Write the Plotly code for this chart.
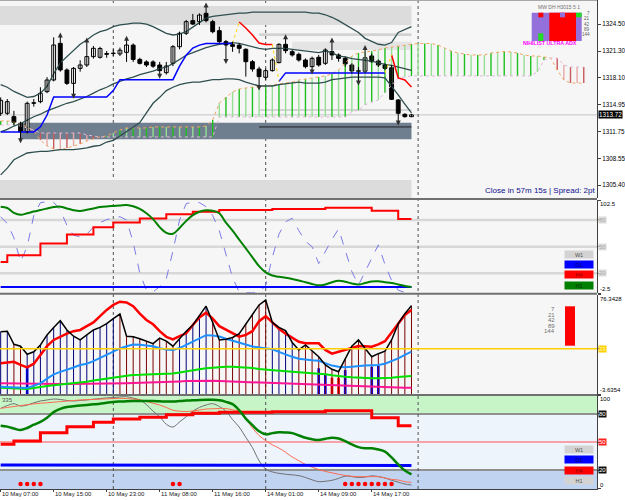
import plotly.graph_objects as go

# ======================= DATA =======================
time_labels = ["10 May 07:00", "10 May 15:00", "10 May 23:00", "11 May 08:00",
               "11 May 16:00", "14 May 01:00", "14 May 09:00", "14 May 17:00"]
time_label_bars = [0, 8, 16, 24, 32, 40, 48, 56]
day_separator_bars = [17, 40, 63]

open_ = [1313.91, 1313.91, 1313.51, 1312.72, 1311.73, 1315.09, 1315.29, 1316.48, 1317.86, 1322.21,
         1319.05, 1317.46, 1319.24, 1319.64, 1320.63, 1320.55, 1320.90, 1321.00, 1320.95, 1321.14,
         1322.00, 1320.30, 1320.00, 1320.00, 1319.64, 1318.73, 1319.84, 1321.81, 1323.40, 1324.90,
         1324.78, 1325.77, 1324.78, 1323.71, 1322.41, 1322.05, 1322.00, 1321.50, 1320.03, 1319.16,
         1318.18, 1318.97, 1319.92, 1322.09, 1321.22, 1320.90, 1320.23, 1319.44, 1320.55, 1319.84,
         1321.22, 1320.83, 1320.43, 1319.64, 1318.95, 1318.90, 1320.71, 1320.11, 1319.64, 1319.32,
         1315.49, 1313.79, 1313.51]
high = [1315.80, 1315.60, 1314.20, 1312.90, 1315.30, 1315.60, 1317.00, 1318.20, 1322.92, 1323.00,
        1319.24, 1319.40, 1320.20, 1322.40, 1321.90, 1321.80, 1321.30, 1321.50, 1321.70, 1322.60,
        1322.20, 1320.50, 1320.20, 1320.20, 1320.00, 1320.00, 1322.00, 1323.60, 1324.98, 1325.70,
        1325.77, 1326.56, 1325.00, 1324.19, 1322.60, 1322.41, 1322.21, 1321.62, 1320.23, 1319.44,
        1319.24, 1320.43, 1322.21, 1322.80, 1321.42, 1321.10, 1320.43, 1320.63, 1320.83, 1321.62,
        1322.41, 1321.02, 1320.63, 1319.84, 1319.40, 1321.50, 1321.00, 1320.30, 1319.84, 1319.64,
        1315.60, 1313.91, 1313.85]
low = [1313.60, 1313.70, 1312.50, 1310.80, 1311.50, 1314.70, 1315.10, 1316.30, 1317.70, 1318.85,
       1317.27, 1316.08, 1318.85, 1319.40, 1320.40, 1320.40, 1320.50, 1320.70, 1320.70, 1320.00,
       1320.00, 1319.70, 1319.40, 1319.30, 1318.45, 1318.50, 1319.50, 1321.50, 1323.20, 1324.38,
       1324.38, 1324.70, 1323.40, 1322.21, 1320.20, 1321.20, 1321.02, 1318.26, 1318.85, 1317.07,
       1317.86, 1318.85, 1319.84, 1321.02, 1320.63, 1320.03, 1319.24, 1318.97, 1319.44, 1319.64,
       1320.23, 1320.03, 1319.44, 1318.65, 1317.66, 1318.70, 1319.90, 1319.40, 1319.05, 1315.49,
       1312.92, 1313.40, 1313.45]
close = [1315.45, 1315.29, 1312.84, 1311.73, 1315.09, 1315.17, 1316.28, 1317.86, 1322.01, 1319.05,
         1317.46, 1319.24, 1319.64, 1320.63, 1321.62, 1321.60, 1321.00, 1321.05, 1321.40, 1322.01,
         1320.30, 1319.84, 1319.64, 1319.50, 1318.97, 1319.52, 1321.81, 1323.40, 1324.78, 1324.50,
         1325.57, 1324.90, 1323.59, 1322.41, 1322.01, 1321.85, 1321.62, 1320.03, 1319.16, 1318.26,
         1318.97, 1320.23, 1322.09, 1321.34, 1320.83, 1320.23, 1319.44, 1320.43, 1319.64, 1321.42,
         1320.83, 1320.43, 1319.76, 1318.93, 1318.90, 1320.50, 1320.03, 1319.64, 1319.24, 1315.57,
         1313.91, 1313.51, 1313.72]

bb_upper = [1317.3, 1317.0, 1316.5, 1316.1, 1315.8, 1315.9, 1316.3, 1317.1, 1318.6, 1319.9,
            1320.6, 1321.4, 1322.1, 1322.6, 1323.2, 1323.6, 1323.8, 1324.2, 1324.4, 1324.5,
            1324.6, 1324.6, 1324.5, 1324.2, 1323.8, 1323.4, 1323.2, 1323.3, 1323.6, 1324.1,
            1324.7, 1325.2, 1325.4, 1325.5, 1325.6, 1325.7, 1325.8, 1325.8, 1325.9, 1325.9,
            1325.9, 1325.9, 1325.9, 1325.9, 1325.9, 1325.9, 1325.9, 1325.8, 1325.8, 1325.6,
            1325.3, 1324.9, 1324.4, 1324.0, 1323.5, 1322.8, 1322.4, 1322.1, 1322.0, 1322.3,
            1323.5, 1323.9, 1324.2]
bb_middle = [1311.7, 1312.0, 1312.4, 1312.7, 1313.1, 1313.5, 1313.8, 1314.2, 1314.5, 1314.8,
             1315.1, 1315.3, 1315.6, 1315.9, 1316.3, 1316.7, 1317.0, 1317.4, 1317.7, 1318.0,
             1318.2, 1318.5, 1318.7, 1318.9, 1319.2, 1319.4, 1319.8, 1320.3, 1320.8, 1321.1,
             1321.4, 1321.7, 1321.9, 1322.1, 1322.2, 1322.3, 1322.2, 1322.0, 1321.8, 1321.6,
             1321.5, 1321.6, 1321.6, 1321.6, 1321.5, 1321.4, 1321.3, 1321.2, 1321.1, 1321.3,
             1321.1, 1320.7, 1320.6, 1320.4, 1320.3, 1320.2, 1320.1, 1319.9, 1319.7, 1319.6,
             1319.4, 1319.2, 1319.0]
bb_lower = [1306.6, 1307.4, 1308.4, 1308.85, 1309.2, 1309.3, 1309.4, 1309.4, 1309.5, 1309.6,
            1309.6, 1309.6, 1309.7, 1309.8, 1310.0, 1310.1, 1310.5, 1310.7, 1311.2, 1311.7,
            1312.2, 1312.8, 1313.95, 1315.1, 1315.8, 1316.6, 1317.0, 1317.3, 1317.5, 1317.6,
            1317.6, 1317.75, 1317.9, 1317.9, 1318.0, 1318.0, 1317.9, 1317.6, 1317.4, 1317.15,
            1317.15, 1317.15, 1317.3, 1317.4, 1317.5, 1317.6, 1317.5, 1317.5, 1317.5, 1317.6,
            1317.9, 1318.0, 1318.1, 1318.2, 1318.2, 1318.2, 1318.2, 1318.2, 1318.1, 1317.15,
            1316.1, 1315.0, 1313.95]

trend_line = [1311.7, 1311.7, 1311.7, 1311.7, 1311.7, 1311.7, 1312.3, 1313.7, 1315.85, 1315.85,
              1315.85, 1315.85, 1315.85, 1315.85, 1315.85, 1315.85, 1315.85, 1316.6, 1317.9, 1317.9,
              1317.9, 1317.9, 1317.9, 1317.9, 1317.9, 1317.9, 1317.9, 1319.5, 1320.8, 1321.65,
              1322.0, 1322.2, 1322.2, 1322.2, 1322.2, 1322.2, 1324.74, 1324.03, 1323.2, 1322.25,
              1322.07, 1322.07, 1317.7, 1318.7, 1318.7, 1318.7, 1318.7, 1318.7, 1318.7, 1318.7,
              1318.7, 1318.7, 1318.7, 1318.7, 1318.7, 1318.7, 1318.7, 1318.7, 1318.7, 1320.83,
              1318.1, 1317.86, 1317.03]
trend_dir = [1, 1, 1, 1, 1, 1, 1, 1, 1, 1, 1, 1, 1, 1, 1, 1, 1, 1, 1, 1,
             1, 1, 1, 1, 1, 1, 1, 1, 1, 1, 1, 1, 1, 1, 1, 1, -1, -1, -1, -1,
             -1, -1, 1, 1, 1, 1, 1, 1, 1, 1, 1, 1, 1, 1, 1, 1, 1, 1, 1, -1,
             -1, -1, -1]

up_fractal_bars = [9, 13, 19, 31, 43, 50, 55]
down_fractal_bars = [3, 11, 24, 34, 39, 47, 54, 60]

senkou_a = [1313.00, 1313.00, 1312.88, 1312.64, 1312.29, 1311.81, 1310.74, 1310.03, 1309.68, 1309.56,
            1309.79, 1310.03, 1310.27, 1310.62, 1310.86, 1311.10, 1311.22, 1311.57, 1311.93, 1312.17,
            1312.17, 1312.17, 1312.17, 1312.29, 1312.29, 1312.29, 1312.29, 1312.29, 1312.29, 1312.29,
            1312.29, 1312.40, 1313.12, 1315.13, 1315.84, 1316.44, 1316.79, 1316.91, 1317.03, 1317.03,
            1317.15, 1317.27, 1317.39, 1317.50, 1317.62, 1317.86, 1317.98, 1318.10, 1318.22, 1318.34,
            1318.57, 1319.05, 1319.88, 1320.71, 1321.06, 1321.18, 1321.30, 1321.42, 1321.66, 1321.77,
            1321.89, 1322.01, 1322.13, 1322.19, 1322.19, 1322.19, 1322.01, 1321.66, 1321.30, 1321.06,
            1320.94, 1320.83, 1320.83, 1320.83, 1321.06, 1321.18, 1321.24, 1321.18, 1321.06, 1320.83,
            1320.71, 1320.71, 1320.59, 1320.47, 1319.05, 1317.86, 1317.50, 1317.50, 1317.50]
senkou_b = [1312.52, 1312.52, 1312.52, 1312.40, 1312.17, 1311.93, 1311.57, 1311.57, 1311.57, 1311.57,
            1311.57, 1311.57, 1311.57, 1311.34, 1311.22, 1311.10, 1311.10, 1311.10, 1311.10, 1311.10,
            1311.10, 1311.10, 1311.10, 1311.10, 1311.10, 1311.10, 1311.10, 1311.10, 1311.10, 1311.10,
            1311.10, 1311.10, 1311.10, 1313.47, 1313.47, 1313.47, 1313.47, 1313.47, 1313.47, 1313.47,
            1313.47, 1313.47, 1313.47, 1313.47, 1313.47, 1313.47, 1313.47, 1313.47, 1313.47, 1313.47,
            1313.47, 1313.47, 1313.47, 1314.06, 1314.30, 1314.90, 1315.25, 1315.49, 1316.32, 1317.27,
            1318.10, 1318.22, 1318.34, 1318.34, 1318.34, 1318.34, 1318.34, 1318.34, 1318.34, 1318.34,
            1318.34, 1318.34, 1318.34, 1318.34, 1318.34, 1318.34, 1318.34, 1318.34, 1318.34, 1318.34,
            1318.34, 1318.81, 1320.23, 1320.47, 1320.47, 1319.64, 1319.40, 1319.40, 1319.40]

bid_price = 1313.72
price_ticks = [1324.50, 1321.30, 1318.10, 1314.95, 1311.75, 1308.55, 1305.40]

# pane 2 (multi-timeframe oscillator)
mtf_h4 = [32.8, 40.4, 40.4, 40.4, 40.4, 40.4, 53.6, 53.6, 53.6, 53.6,
          63.8, 63.8, 63.8, 63.8, 71.7, 71.7, 71.7, 77.3, 77.3, 77.3,
          77.3, 81.8, 81.8, 81.8, 81.8, 86.4, 86.4, 86.4, 86.4, 89.3,
          89.3, 89.3, 89.3, 91.2, 91.2, 91.2, 91.2, 91.2, 91.2, 91.2,
          91.2, 92.3, 92.3, 92.3, 92.3, 92.3, 92.3, 92.3, 92.3, 93.8,
          93.8, 93.8, 93.8, 93.8, 93.8, 93.8, 90.5, 90.5, 90.5, 90.5,
          81.0, 81.0, 81.0]
mtf_h1 = [95.0, 93.5, 88.0, 85.8, 87.5, 89.5, 91.2, 93.0, 94.5, 95.0,
          93.0, 91.0, 90.1, 91.5, 93.0, 94.5, 95.3, 95.8, 96.3, 96.9,
          95.5, 92.5, 87.5, 81.0, 72.0, 65.5, 64.5, 71.0, 79.0, 85.5,
          89.3, 91.0, 90.5, 87.5, 77.0, 68.0, 58.0, 48.0, 38.0, 28.0,
          21.0, 17.5, 16.0, 15.0, 13.7, 12.0, 10.0, 8.0, 6.5, 7.5,
          10.0, 11.5, 10.5, 8.5, 7.3, 9.0, 10.8, 11.0, 10.0, 9.2,
          7.5, 5.8, 4.6]
mtf_d1 = [4.6, 4.6, 4.6, 4.6, 4.6, 4.6, 4.6, 4.6, 4.6, 4.6, 4.6, 4.6, 4.6, 4.6, 4.6, 4.6,
          4.6, 4.6, 4.6, 4.6, 4.6, 4.6, 4.6, 4.6, 4.6, 4.6, 4.6, 4.6, 4.6, 4.6, 4.6, 4.6,
          4.6, 4.6, 4.6, 4.6, 4.6, 4.6, 4.6, 4.6, 4.6, 4.6, 4.6, 4.6, 4.6, 4.6, 4.6, 4.6,
          4.6, 4.6, 4.6, 4.6, 4.6, 4.6, 4.6, 4.6, 4.6, 4.6, 4.6, 4.6, 4.6, 4.6, 4.6]
mtf_fast = [83.7, 76.0, 60.0, 33.0, 50.0, 85.0, 99.6, 100.5, 100.0, 91.2,
            74.0, 63.0, 61.0, 64.0, 72.0, 77.0, 80.5, 82.0, 83.7, 80.0,
            55.0, 20.0, 1.0, -1.0, 5.0, 14.0, 45.0, 80.0, 98.5, 99.8,
            99.5, 95.0, 85.0, 68.0, 40.0, 15.0, -1.0, -2.0, -2.0, -2.0,
            6.6, 38.0, 64.0, 78.0, 82.0, 68.0, 56.0, 50.0, 31.0, 45.0,
            58.0, 70.0, 45.0, 22.0, 6.6, 22.0, 38.0, 52.0, 30.0, 12.0,
            1.0, -1.5, -2.0]
mtf_levels = [80, 50, 20]

# pane 3 (MA stack histogram)
ma_black = [46.6, 47.0, 36.5, 35.0, 28.5, 30.5, 36.0, 44.0, 50.0, 55.4,
            48.0, 43.0, 40.0, 44.0, 48.0, 50.0, 53.0, 57.0, 60.7, 43.0,
            42.6, 41.0, 39.0, 37.0, 41.5, 39.0, 35.0, 41.0, 47.0, 52.0,
            60.0, 67.0, 54.0, 40.0, 40.5, 42.0, 45.0, 53.0, 60.0, 68.0,
            71.9, 54.0, 50.0, 47.4, 38.0, 32.0, 36.0, 31.0, 26.6, 20.0,
            16.5, 14.6, 25.0, 35.0, 40.0, 33.0, 26.6, 29.0, 31.0, 40.0,
            53.0, 61.0, 67.4]
ma_red = [21.3, 22.0, 22.5, 20.0, 18.1, 21.0, 28.0, 35.0, 40.0, 42.6,
          45.0, 47.0, 48.0, 51.0, 54.0, 59.0, 64.0, 68.0, 70.6, 70.0,
          67.0, 61.0, 56.0, 52.5, 47.0, 42.5, 40.5, 43.0, 45.3, 52.0,
          58.0, 61.8, 57.0, 51.0, 48.0, 45.0, 42.6, 44.0, 47.0, 55.0,
          59.0, 54.0, 49.0, 45.0, 41.5, 38.5, 37.3, 37.3, 37.3, 32.0,
          29.0, 30.5, 32.0, 34.0, 35.2, 35.0, 34.6, 36.5, 39.0, 46.0,
          53.0, 60.0, 64.0]
ma_blue = [2.6, 2.3, 2.0, 1.5, 1.5, 3.5, 5.3, 9.0, 12.5, 14.5,
           16.0, 18.0, 20.0, 21.0, 23.0, 25.5, 28.0, 31.0, 33.3, 35.0,
           36.3, 36.2, 35.5, 35.0, 33.3, 32.3, 32.0, 33.5, 36.0, 38.5,
           41.5, 43.8, 43.5, 42.8, 41.0, 39.5, 37.8, 36.0, 34.8, 34.0,
           33.5, 32.5, 30.5, 28.3, 26.5, 25.0, 24.2, 23.8, 23.4, 21.5,
           19.5, 18.5, 18.1, 18.5, 19.2, 19.5, 19.8, 20.0, 21.0, 23.0,
           25.3, 28.0, 30.6]
ma_green = [1.8, 1.5, 1.2, 0.9, 0.8, 1.5, 2.6, 3.2, 3.8, 4.3,
            5.0, 5.6, 6.1, 6.6, 7.5, 8.4, 9.1, 9.8, 10.6, 11.3,
            12.0, 12.1, 12.2, 12.3, 12.4, 12.5, 13.2, 13.9, 14.6, 15.5,
            16.5, 17.3, 17.8, 18.3, 18.6, 18.5, 18.3, 18.1, 17.5, 16.8,
            16.2, 15.9, 15.4, 15.0, 14.6, 14.3, 13.9, 13.6, 13.3, 12.6,
            11.8, 11.0, 10.5, 10.1, 9.7, 9.3, 9.3, 9.3, 9.3, 9.7,
            10.3, 10.8, 11.2]
ma_pink = [5.3, 5.2, 5.0, 4.8, 4.6, 4.5, 4.5, 4.5, 4.6, 4.7,
           4.8, 4.8, 4.8, 4.9, 5.0, 5.1, 5.2, 5.3, 5.3, 5.4,
           5.5, 5.6, 5.7, 5.8, 5.9, 6.2, 6.5, 6.8, 7.1, 7.3,
           7.5, 7.5, 7.3, 7.1, 6.9, 6.7, 6.6, 6.4, 6.2, 6.0,
           5.8, 5.5, 5.3, 5.1, 4.9, 4.6, 4.4, 4.2, 4.0, 3.8,
           3.5, 3.3, 3.0, 2.8, 2.6, 2.4, 2.2, 2.0, 1.9, 1.8,
           1.8, 1.8, 1.8]
hist_rising = [1, 1, 0, 0, 1, 1, 1, 1, 1, 1, 1, 1, 1, 1, 1, 1, 1, 1, 0, 0,
               0, 0, 0, 0, 0, 0, 0, 1, 1, 1, 1, 1, 0, 0, 0, 0, 0, 0, 0, 0,
               0, 1, 1, 1, 1, 0, 0, 0, 0, 0, 0, 0, 0, 0, 0, 0, 0, 0, 0, 0,
               0, 0, 0]
signal_bars = [4, 48, 49, 50, 51, 52, 56, 57]
signal_values = [18.6, 17.3, 13.0, 9.7, 9.7, 16.0, 18.6, 19.2]
signal_is_buy = [1, 1, 1, 0, 0, 1, 1, 1]
ma_periods = ["7", "21", "42", "89", "144"]
ma_level = 33
pane3_min, pane3_max = -3.6354, 76.3428

# pane 4 (multi-timeframe stochastic)
st_h1 = [67.5, 66.5, 64.5, 62.8, 65.0, 68.5, 71.5, 76.0, 82.0, 85.5,
         87.5, 88.3, 89.0, 89.6, 90.3, 91.0, 92.0, 92.8, 93.3, 93.7,
         93.9, 93.9, 93.9, 93.9, 93.6, 93.3, 93.3, 93.8, 94.3, 94.6,
         95.0, 95.3, 95.2, 94.6, 93.0, 90.5, 84.0, 75.0, 68.0, 61.5,
         58.2, 59.5, 60.4, 60.2, 59.5, 57.0, 54.5, 53.0, 52.2, 53.5,
         54.6, 53.8, 51.0, 47.5, 44.5, 43.3, 43.3, 42.0, 39.7, 33.5,
         26.0, 19.5, 15.4]
st_h4 = [47.5, 47.5, 51.1, 51.1, 51.1, 51.1, 59.8, 59.8, 59.8, 59.8,
         66.4, 66.4, 66.4, 66.4, 71.1, 71.1, 71.1, 74.5, 74.5, 74.5,
         74.5, 76.4, 76.4, 76.4, 76.4, 79.2, 79.2, 79.2, 79.2, 80.7,
         80.7, 80.7, 80.7, 81.8, 81.8, 81.8, 81.8, 81.8, 81.8, 81.8,
         81.8, 82.5, 82.5, 82.5, 82.5, 82.5, 82.5, 82.5, 82.5, 83.4,
         83.4, 83.4, 83.4, 83.4, 83.4, 83.4, 76.0, 76.0, 76.0, 76.0,
         67.5, 67.5, 67.5]
st_d1 = [25.4, 25.4, 25.4, 25.4, 25.4, 25.4, 25.4, 25.4, 25.4, 25.4,
         25.4, 25.4, 25.4, 25.4, 25.4, 25.4, 25.4, 25.4, 25.4, 25.4,
         25.4, 25.4, 25.4, 25.4, 25.4, 25.4, 25.4, 25.4, 25.4, 25.4,
         25.4, 25.4, 25.4, 25.4, 25.4, 25.4, 25.4, 25.4, 25.4, 25.4,
         24.9, 24.9, 24.9, 24.9, 24.9, 24.9, 24.9, 24.9, 24.9, 24.9,
         24.9, 24.9, 24.9, 24.9, 24.9, 24.9, 24.9, 24.9, 24.9, 24.9,
         24.9, 24.9, 24.9]
st_main = [86.0, 89.0, 91.0, 88.5, 89.5, 92.0, 93.9, 95.0, 96.0, 95.5,
           94.5, 93.9, 94.5, 95.0, 95.8, 96.5, 97.2, 97.7, 98.2, 98.5,
           97.0, 95.0, 90.0, 83.0, 77.0, 69.0, 66.0, 71.5, 77.0, 83.0,
           87.0, 89.6, 91.0, 88.0, 83.0, 74.0, 66.0, 55.0, 44.0, 30.0,
           21.0, 18.0, 16.5, 15.5, 14.8, 14.0, 12.0, 9.5, 7.5, 8.0,
           9.0, 11.0, 13.5, 13.0, 12.0, 12.5, 13.8, 13.0, 11.5, 9.0,
           7.0, 5.0, 4.0]
st_signal = [86.0, 87.0, 88.0, 89.0, 90.0, 90.8, 91.5, 92.0, 92.6, 93.2,
             93.8, 94.4, 95.0, 95.3, 95.6, 95.9, 96.2, 96.5, 96.8, 96.5,
             96.0, 95.3, 93.5, 91.5, 89.6, 87.0, 84.0, 83.0, 82.6, 83.2,
             84.3, 85.3, 85.6, 85.9, 85.8, 84.5, 82.5, 75.0, 65.0, 57.0,
             51.5, 47.0, 43.5, 39.0, 34.0, 30.0, 26.0, 23.0, 20.5, 18.5,
             17.0, 15.5, 14.2, 13.3, 12.9, 12.9, 12.9, 12.9, 11.5, 10.0,
             9.3, 7.5, 6.8]
dot_bars = [3, 4, 5, 6, 26, 27, 52, 53, 54, 55, 56, 57, 58, 59]
dot_value = 5
stoch_levels = [80, 50, 20]

# ======================= LAYOUT HELPERS =======================
W_PX, H_PX = 597.0, 489.0
FONT = "Liberation Sans"


def pxx(x):
    return x / W_PX


def pxy(y):
    return 1 - y / H_PX


n_bars = len(close)
xs = list(range(n_bars))
traces = []

# ---------------- main pane ----------------
cloud_groups = {"g1": ([], []), "g2": ([], []), "r1": ([], []), "r2": ([], [])}
for i, (a, b) in enumerate(zip(senkou_a, senkou_b)):
    key = ("g" if a >= b else "r") + ("1" if i % 2 == 0 else "2")
    cloud_groups[key][0].extend([i, i, None])
    cloud_groups[key][1].extend([a, b, None])
cloud_colors = {"g1": "#1EC01E", "g2": "#96E096", "r1": "#C85A5A", "r2": "#E8A8A8"}
for key, (cx, cy) in cloud_groups.items():
    traces.append(go.Scatter(x=cx, y=cy, mode="lines", line=dict(color=cloud_colors[key], width=1.4),
                             xaxis="x", yaxis="y", hoverinfo="skip"))
traces.append(go.Scatter(x=list(range(len(senkou_a))), y=senkou_a, mode="lines",
                         line=dict(color="#F4A460", width=1, dash="dot"), xaxis="x", yaxis="y"))
traces.append(go.Scatter(x=list(range(len(senkou_b))), y=senkou_b, mode="lines",
                         line=dict(color="#E0B8D8", width=1, dash="dot"), xaxis="x", yaxis="y"))

for band in (bb_upper, bb_middle, bb_lower):
    traces.append(go.Scatter(x=xs, y=band, mode="lines", line=dict(color="#2F4F4F", width=1.3),
                             xaxis="x", yaxis="y"))

up_y = [v if d == 1 else None for v, d in zip(trend_line, trend_dir)]
dn_y = [v if d == -1 else None for v, d in zip(trend_line, trend_dir)]
sw_x, sw_y = [], []
for i in range(1, n_bars):
    if trend_dir[i] != trend_dir[i - 1]:
        sw_x.extend([i - 1, i, None])
        sw_y.extend([trend_line[i - 1], trend_line[i], None])
traces.append(go.Scatter(x=xs, y=up_y, mode="lines", line=dict(color="#0000FF", width=1.5),
                         xaxis="x", yaxis="y"))
traces.append(go.Scatter(x=xs, y=dn_y, mode="lines", line=dict(color="#FF0000", width=1.5),
                         xaxis="x", yaxis="y"))
traces.append(go.Scatter(x=sw_x, y=sw_y, mode="lines", line=dict(color="#FFD700", width=1, dash="dot"),
                         xaxis="x", yaxis="y"))

wx, wy = [], []
for i in xs:
    wx.extend([i, i, None])
    wy.extend([low[i], high[i], None])
traces.append(go.Scatter(x=wx, y=wy, mode="lines", line=dict(color="black", width=1),
                         xaxis="x", yaxis="y"))
body_base = [min(o, c) for o, c in zip(open_, close)]
body_h = [max(abs(c - o), 0.05) for o, c in zip(open_, close)]
body_fill = ["white" if c >= o else "black" for o, c in zip(open_, close)]
traces.append(go.Bar(x=xs, y=body_h, base=body_base, width=0.58,
                     marker=dict(color=body_fill, line=dict(color="black", width=1)),
                     xaxis="x", yaxis="y"))
traces.append(go.Scatter(x=up_fractal_bars, y=[high[i] + 0.5 for i in up_fractal_bars], mode="markers",
                         marker=dict(symbol="arrow-up", size=5, color="#303030"), xaxis="x", yaxis="y"))
traces.append(go.Scatter(x=down_fractal_bars, y=[low[i] - 0.45 for i in down_fractal_bars], mode="markers",
                         marker=dict(symbol="arrow-down", size=5, color="#303030"), xaxis="x", yaxis="y"))

# ---------------- pane 2 ----------------
traces.append(go.Scatter(x=xs, y=mtf_fast, mode="lines", line=dict(color="#7B7BE6", width=1, dash="dash"),
                         xaxis="x", yaxis="y2"))
traces.append(go.Scatter(x=xs, y=mtf_d1, mode="lines", line=dict(color="#0000FF", width=2),
                         xaxis="x", yaxis="y2"))
traces.append(go.Scatter(x=xs, y=mtf_h4, mode="lines", line=dict(color="#FF0000", width=2, shape="hv"),
                         xaxis="x", yaxis="y2"))
traces.append(go.Scatter(x=xs, y=mtf_h1, mode="lines", line=dict(color="#008000", width=2, shape="spline"),
                         xaxis="x", yaxis="y2"))

# ---------------- pane 3 ----------------
hx = {1: [], 0: []}
hy = {1: [], 0: []}
for i in xs:
    hx[hist_rising[i]].extend([i, i, None])
    hy[hist_rising[i]].extend([pane3_min, ma_black[i], None])
traces.append(go.Scatter(x=hx[1], y=hy[1], mode="lines", line=dict(color="#00007A", width=1),
                         xaxis="x", yaxis="y3"))
traces.append(go.Scatter(x=hx[0], y=hy[0], mode="lines", line=dict(color="#7A0000", width=1),
                         xaxis="x", yaxis="y3"))
traces.append(go.Bar(x=signal_bars, y=[v - pane3_min for v in signal_values], base=pane3_min, width=0.4,
                     marker=dict(color=["#0000FF" if b else "#FF0000" for b in signal_is_buy], line=dict(width=0)),
                     xaxis="x", yaxis="y3"))
traces.append(go.Scatter(x=xs, y=ma_pink, mode="lines", line=dict(color="#FF1493", width=2),
                         xaxis="x", yaxis="y3"))
traces.append(go.Scatter(x=xs, y=ma_green, mode="lines", line=dict(color="#00E000", width=2),
                         xaxis="x", yaxis="y3"))
traces.append(go.Scatter(x=xs, y=ma_blue, mode="lines", line=dict(color="#1E90FF", width=2),
                         xaxis="x", yaxis="y3"))
traces.append(go.Scatter(x=xs, y=ma_red, mode="lines", line=dict(color="#FF0000", width=2.5),
                         xaxis="x", yaxis="y3"))
traces.append(go.Scatter(x=xs, y=ma_black, mode="lines", line=dict(color="#000000", width=1.5),
                         xaxis="x", yaxis="y3"))

# ---------------- pane 4 ----------------
traces.append(go.Scatter(x=xs, y=st_main, mode="lines", line=dict(color="#707070", width=1, shape="spline"),
                         xaxis="x", yaxis="y4"))
traces.append(go.Scatter(x=xs, y=st_signal, mode="lines", line=dict(color="#FF6A50", width=1, shape="spline"),
                         xaxis="x", yaxis="y4"))
traces.append(go.Scatter(x=xs, y=st_d1, mode="lines", line=dict(color="#0000FF", width=3),
                         xaxis="x", yaxis="y4"))
traces.append(go.Scatter(x=xs, y=st_h4, mode="lines", line=dict(color="#FF0000", width=3, shape="hv"),
                         xaxis="x", yaxis="y4"))
traces.append(go.Scatter(x=xs, y=st_h1, mode="lines", line=dict(color="#008000", width=2.5, shape="spline"),
                         xaxis="x", yaxis="y4"))
traces.append(go.Scatter(x=dot_bars, y=[dot_value] * len(dot_bars), mode="markers",
                         marker=dict(color="#FF0000", size=4.5, line=dict(width=0)), xaxis="x", yaxis="y4"))

fig = go.Figure(data=traces)

# ---------------- shapes ----------------
shapes = []


def rect_px(x0, x1, y0, y1, color, layer="above"):
    shapes.append(dict(type="rect", xref="paper", yref="paper", x0=pxx(x0), x1=pxx(x1),
                       y0=pxy(y1), y1=pxy(y0), fillcolor=color, line=dict(width=0), layer=layer))


# main pane zones (bars / prices)
zones = [(-0.2, 62, 1326.64, 1324.38, "#DCDCDC"),
         (39, 62, 1323.41, 1323.08, "#D2D2D2"),
         (44, 62, 1322.40, 1321.42, "#E4E4E4"),
         (3, 62, 1312.79, 1310.82, "#6F7F8F"),
         (-0.2, 62, 1306.00, 1303.86, "#DCDCDC")]
for x0, x1, y0, y1, col in zones:
    shapes.append(dict(type="rect", xref="x", yref="y", x0=x0, x1=x1, y0=y1, y1=y0,
                       fillcolor=col, line=dict(width=0), layer="below"))
shapes.append(dict(type="line", xref="x", yref="y", x0=39, x1=62, y0=1314.30, y1=1314.30,
                   line=dict(color="#B4B4B4", width=1), layer="below"))
shapes.append(dict(type="line", xref="x", yref="y", x0=39, x1=62, y0=1312.29, y1=1312.29,
                   line=dict(color="#202020", width=1), layer="below"))
shapes.append(dict(type="line", xref="paper", yref="y", x0=0, x1=1, y0=bid_price, y1=bid_price,
                   line=dict(color="#C4C4C4", width=1), layer="below"))

# pane 2 levels
for lv in mtf_levels:
    shapes.append(dict(type="line", xref="paper", yref="y2", x0=0, x1=1, y0=lv, y1=lv,
                       line=dict(color="#D8D8D8", width=2.5), layer="below"))
# pane 3 level
shapes.append(dict(type="line", xref="paper", yref="y3", x0=0, x1=1, y0=ma_level, y1=ma_level,
                   line=dict(color="#FFD000", width=1.5), layer="above"))
# pane 4 bands & levels
shapes.append(dict(type="rect", xref="paper", yref="y4", x0=0, x1=1, y0=80, y1=100,
                   fillcolor="#C8F5C8", line=dict(width=0), layer="below"))
shapes.append(dict(type="rect", xref="paper", yref="y4", x0=0, x1=1, y0=20, y1=80,
                   fillcolor="#EEF4FC", line=dict(width=0), layer="below"))
shapes.append(dict(type="rect", xref="paper", yref="y4", x0=0, x1=1, y0=-0.3, y1=20,
                   fillcolor="#C0D4F2", line=dict(width=0), layer="below"))
for lv, col, w in zip(stoch_levels, ["#909090", "#FF5050", "#909090"], [2, 1, 2]):
    shapes.append(dict(type="line", xref="paper", yref="y4", x0=0, x1=1, y0=lv, y1=lv,
                       line=dict(color=col, width=w), layer="below"))

# period separators (dotted)
for b in day_separator_bars:
    shapes.append(dict(type="line", xref="x", yref="paper", x0=b, x1=b, y0=0, y1=1,
                       line=dict(color="#505050", width=1, dash="dot"), layer="below"))

# window separators & top border
for ypx, col in [(0.5, "#A8A8A8"), (199, "#707070"), (293.8, "#707070"), (394.9, "#707070")]:
    shapes.append(dict(type="line", xref="paper", yref="paper", x0=0, x1=1, y0=pxy(ypx), y1=pxy(ypx),
                       line=dict(color=col, width=2 if ypx > 1 else 1), layer="above"))

# MTF panel (top right)
rect_px(531.7, 581.7, 12.7, 41, "#9370DB")
rect_px(549.3, 576, 12.7, 41, "#FF0000")
rect_px(538.3, 543.3, 12.7, 17.3, "#FF0000")
rect_px(538.3, 543.3, 33.3, 41, "#22DD22")
rect_px(560, 565, 12.7, 17.3, "#9370DB")
rect_px(576, 581.7, 12.7, 17.3, "#22DD22")
# pane 3 red strength bar
rect_px(565, 575, 306.3, 345.7, "#FF0000")

# ---------------- annotations ----------------
ann = []


def text_px(text, x, y, size, color, xanchor="left", bold=False, bg=None, yref="paper", yval=None,
            w=None, h=None):
    d = dict(text=("<b>%s</b>" % text) if bold else text, x=pxx(x), xref="paper",
             y=yval if yval is not None else pxy(y), yref=yref, xanchor=xanchor, yanchor="middle",
             showarrow=False, font=dict(family=FONT, size=size, color=color), borderpad=0)
    if bg:
        d["bgcolor"] = bg
    if w:
        d["width"] = w
    if h:
        d["height"] = h
    ann.append(d)


# right-axis labels
text_px("1313.72", 598, 0, 6.3, "white", bg="black", yref="y", yval=bid_price)
text_px("102.5", 599, 204, 6, "black")
text_px("-2.5", 599, 289, 6, "black")
for lv in mtf_levels:
    text_px(str(lv), 598, 0, 6, "#A8A8A8", bg="#DCDCDC", yref="y2", yval=lv)
text_px("76.3428", 599, 298.5, 6, "black")
text_px("-3.6354", 599, 389.5, 6, "black")
text_px(str(ma_level), 598, 0, 6, "#FFF6C0", bg="#FFD000", yref="y3", yval=ma_level)
text_px("100", 599, 399, 6, "black")
text_px("0", 599, 484.5, 6, "black")
for lv, bg in zip(stoch_levels, ["#101010", "#FF2020", "#101010"]):
    text_px(str(lv), 598, 0, 6, "white", bg=bg, yref="y4", yval=lv)

# x labels
for b, lab in zip(time_label_bars, time_labels):
    ann.append(dict(text=lab, x=b, xref="x", y=pxy(494), yref="paper", xanchor="left", yanchor="middle",
                    showarrow=False, font=dict(family=FONT, size=6, color="#202020"), xshift=-1))

# info texts
text_px("Close in 57m 15s | Spread: 2pt", 596, 190, 8, "#101090", xanchor="right")
text_px("MW DH H3015 5 1", 559, 7.3, 5, "#707070", xanchor="center")
for lab, ypx in zip(ma_periods, [14, 19, 24.3, 29.3, 34.3]):
    text_px(lab, 591, ypx, 4.5, "#606060", xanchor="right")
text_px("NIHILIST ULTRA ADX", 550, 42.7, 5.3, "#FF00FF", xanchor="center", bold=True)
for lab, ypx in zip(ma_periods, [309, 314.5, 320, 325.7, 331]):
    text_px(lab, 556, ypx, 6, "#707070", xanchor="right")
text_px("335", 1, 399.5, 6, "#505050")

# legend boxes
for ypx, lab, bg, fg in [(254.3, "W1", "#D3D3D3", "#505050"), (264.3, "D1", "#0000FF", "#000070"),
                         (274.7, "H4", "#FF0000", "#900000"), (285.3, "H1", "#008000", "#003000"),
                         (449.3, "W1", "#D3D3D3", "#505050"), (459.7, "D1", "#0000FF", "#000070"),
                         (470.3, "H4", "#FF0000", "#900000"), (480.3, "H1", "#D3D3D3", "#505050")]:
    text_px(lab, 578.7, ypx, 5.5, fg, xanchor="center", bg=bg, w=28, h=7)

# ---------------- axes ----------------
common_y = dict(side="right", showgrid=False, zeroline=False, showline=True, linecolor="#404040",
                linewidth=1, ticks="outside", ticklen=3, tickcolor="#404040", fixedrange=True,
                tickfont=dict(family=FONT, size=6.3, color="black"), anchor="x")

fig.update_layout(
    width=625, height=500,
    margin=dict(l=0, r=28, t=0, b=11),
    paper_bgcolor="white", plot_bgcolor="#F6F6F6",
    showlegend=False, barmode="overlay", hovermode=False,
    xaxis=dict(domain=[0, 1], range=[-0.1, 90.0], anchor="y4", showgrid=False, zeroline=False,
               showline=True, linecolor="#404040", linewidth=1, ticks="outside", ticklen=2,
               tickcolor="#404040", tickvals=time_label_bars, showticklabels=False, fixedrange=True),
    yaxis=dict(domain=[pxy(198), 1], range=[1303.86, 1327.35], tickvals=price_ticks,
               ticktext=["%.2f" % p for p in price_ticks], **common_y),
    yaxis2=dict(domain=[pxy(293.3), pxy(200)], range=[-2.5, 102.5], tickvals=[102.5, 80, 50, 20, -2.5],
                showticklabels=False, **common_y),
    yaxis3=dict(domain=[pxy(394.5), pxy(294.5)], range=[pane3_min, pane3_max],
                tickvals=[pane3_max, ma_level, pane3_min], showticklabels=False, **common_y),
    yaxis4=dict(domain=[0, pxy(395.3)], range=[-0.3, 100], tickvals=[100, 80, 50, 20, 0],
                showticklabels=False, **common_y),
    shapes=shapes,
    annotations=ann,
)

fig.write_html("out.html", include_plotlyjs=True, config={"displayModeBar": False})
